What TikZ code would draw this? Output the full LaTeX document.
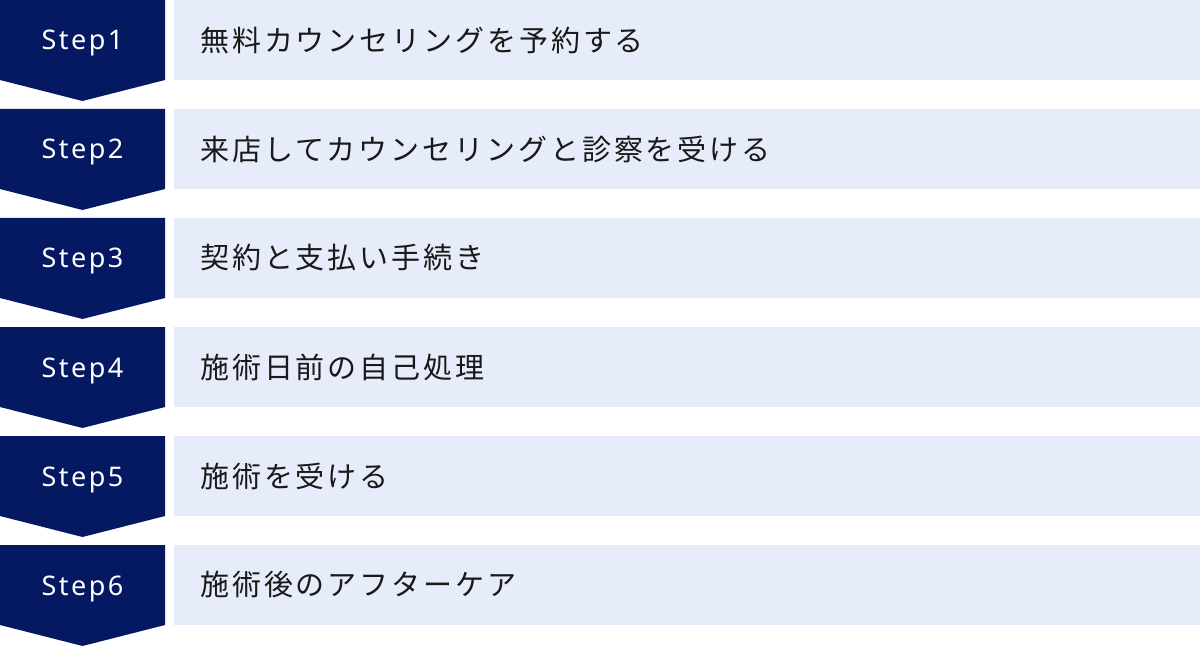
\documentclass[tikz,border=0pt]{standalone}
\usepackage{fontspec}
\setmainfont{Noto Sans CJK JP}
\newfontfamily\jpfont[LetterSpace=10]{Noto Sans CJK JP}
\newfontfamily\stepfont[LetterSpace=9]{Noto Sans}
\definecolor{stepnavy}{RGB}{5,24,98}
\definecolor{barblue}{RGB}{230,236,249}
\definecolor{taskink}{RGB}{25,25,25}
\begin{document}
\begin{tikzpicture}[x=1pt,y=-1pt,
  steplabel/.style={text=white,inner sep=0pt,anchor=base,
    font=\stepfont\fontsize{27}{30}\selectfont},
  tasklabel/.style={text=taskink,inner sep=0pt,anchor=west,
    font=\jpfont\fontsize{29}{33}\selectfont}]
\useasboundingbox (0,0) rectangle (1200,647);
% one row per step: navy chevron and pale bar
\foreach \n/\txt in {1/無料カウンセリングを予約する,
    2/来店してカウンセリングと診察を受ける,
    3/契約と支払い手続き,
    4/施術日前の自己処理,
    5/施術を受ける,
    6/施術後のアフターケア} {
  \pgfmathsetmacro\rowtop{(\n-1)*109}
  \fill[stepnavy] (0,\rowtop) -- (165,\rowtop) -- (165,\rowtop+80)
    -- (82.5,\rowtop+101) -- (0,\rowtop+80) -- cycle;
  \fill[barblue] (174,\rowtop) rectangle (1200,\rowtop+80);
  \node[steplabel] (step\n) at (82.5,\rowtop+50) {Step\n};
  \node[tasklabel] (task\n) at (200,\rowtop+40) {\txt};
}
\end{tikzpicture}
\end{document}
